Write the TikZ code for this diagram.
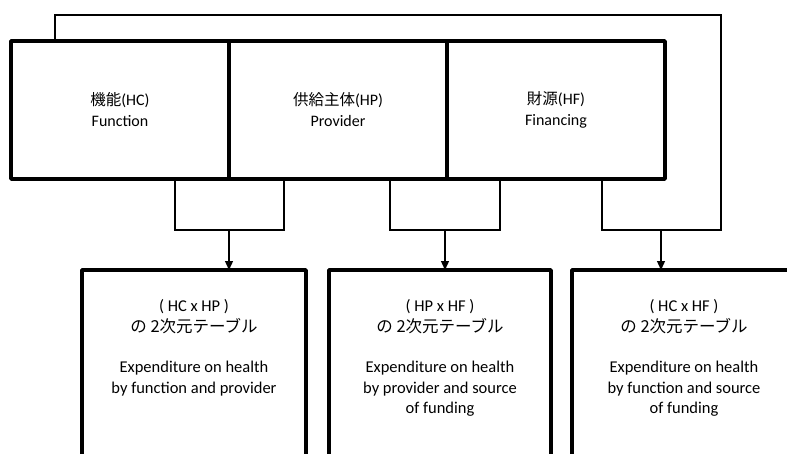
\documentclass[tikz,border=0pt]{standalone}
\usepackage{fontspec}
\setmainfont{Carlito}
\newfontfamily\jp{Noto Sans CJK JP}
\usetikzlibrary{arrows.meta,calc}

\begin{document}
\begin{tikzpicture}[x=1pt,y=-1pt,
    topbox/.style={draw, line width=3.5pt, line join=round, minimum width=218pt,
      minimum height=138pt, align=center, outer sep=0pt,
      font=\fontsize{16}{21}\selectfont},
    tablebox/.style={draw, line width=3.5pt, line join=round, minimum width=224pt,
      minimum height=230pt, anchor=north, outer sep=0pt},
    tabletext/.style={anchor=north, align=center, font=\fontsize{16.5}{20.5}\selectfont},
    link/.style={line width=1.3pt},
    arr/.style={line width=1.3pt, -{Triangle[width=8pt,length=9pt]}}]
    \useasboundingbox (0,0) rectangle (787,453);
    \clip (0,0) rectangle (787,453);

    % Classification axes
    \node[topbox] (hc) at (120,110) {{\jp\fontsize{15.5}{21}\selectfont 機能}(HC)\\Function};
    \node[topbox] (hp) at (338,110) {{\jp\fontsize{15.5}{21}\selectfont 供給主体}(HP)\\Provider};
    \node[topbox] (hf) at (556,110) {{\jp\fontsize{15.5}{21}\selectfont 財源}(HF)\\Financing};

    % Two-dimensional tables
    \node[tablebox] (hchp) at (194,270) {};
    \node[tablebox, minimum width=222pt] (hphf) at (440,270) {};
    \node[tablebox] (hchf) at (684,270) {};

    \node[tabletext] (hchptext) at ($(hchp.north)+(0,26)$)
      {( HC x HP )\\{\jp の 2次元テーブル}\\[20pt]Expenditure on health\\by function and provider};
    \node[tabletext] (hphftext) at ($(hphf.north)+(0,26)$)
      {( HP x HF )\\{\jp の 2次元テーブル}\\[20pt]Expenditure on health\\by provider and source\\of funding};
    \node[tabletext] (hchftext) at ($(hchf.north)+(0,26)$)
      {( HC x HF )\\{\jp の 2次元テーブル}\\[20pt]Expenditure on health\\by function and source\\of funding};

    % Junctions
    \coordinate (j1) at (229,230);
    \coordinate (j2) at (445,230);
    \coordinate (j3) at (661,230);
    \coordinate (f2) at (721,15);

    % HC x HP
    \draw[link] ($(hc.south)+(55,0)$) |- (j1) -| ($(hp.south)+(-54,0)$);
    \draw[arr] (j1) -- (j1 |- hchp.north);

    % HP x HF
    \draw[link] ($(hp.south)+(52,0)$) |- (j2) -| ($(hf.south)+(-56,0)$);
    \draw[arr] (j2) -- (j2 |- hphf.north);

    % HC x HF (line back from HC)
    \draw[link] ($(hc.north west)+(44,0)$) |- (f2) |- (j3) -| ($(hf.south)+(46,0)$);
    \draw[arr] (j3) -- (j3 |- hchf.north);
\end{tikzpicture}
\end{document}
